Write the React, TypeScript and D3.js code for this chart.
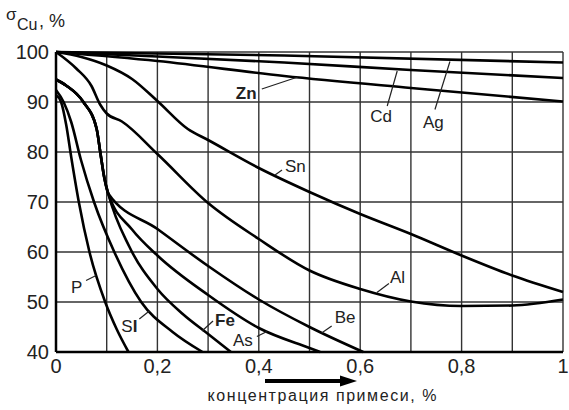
import React from "react";
import * as d3 from "d3";

// concentration of impurity (%) -> relative conductivity of copper (%)
const xTicks = [0, 0.2, 0.4, 0.6, 0.8, 1];
const xTickLabels = ["0", "0,2", "0,4", "0,6", "0,8", "1"];
const yTicks = [40, 50, 60, 70, 80, 90, 100];

const ag = [[0, 100], [0.45, 99.3], [1, 97.9]];
const cd = [[0, 100], [0.2, 99.1], [0.45, 97.9], [0.7, 96.4], [1, 94.8]];
const zn = [[0, 100], [0.2, 98.2], [0.45, 95.2], [0.7, 92.8], [1, 90.1]];
const sn = [
  [0, 100], [0.05, 99], [0.1, 97.3], [0.15, 94.6], [0.2, 90.2], [0.26, 84.6],
  [0.3, 82.4], [0.4, 76.8], [0.5, 72], [0.6, 67.6], [0.7, 63.6], [0.8, 59.3],
  [0.9, 55.3], [1, 52],
];
const al = [
  [0, 100], [0.04, 96.7], [0.07, 93.2], [0.087, 89.5], [0.1, 87.7], [0.13, 86.1],
  [0.2, 79.6], [0.3, 69.8], [0.4, 62.6], [0.5, 56.3], [0.6, 52.6], [0.7, 50.1],
  [0.8, 49.2], [0.9, 49.3], [1, 50.5],
];
// Be, As and Fe share the same start
const be = [
  [0, 94.5], [0.02, 93.3], [0.054, 90], [0.08, 84.7], [0.088, 79.5], [0.095, 75],
  [0.103, 71.7], [0.2, 64.6], [0.3, 57.2], [0.4, 50.5], [0.5, 45], [0.606, 40],
];
const as = [
  [0, 94.5], [0.02, 93.3], [0.054, 90], [0.08, 84.7], [0.088, 79.5], [0.095, 75],
  [0.103, 71.7], [0.15, 64.5], [0.2, 59.3], [0.3, 51.4], [0.4, 44.8], [0.5, 40.8],
  [0.521, 40],
];
const fe = [
  [0, 94.5], [0.02, 93.3], [0.054, 90], [0.08, 84.7], [0.088, 79.5], [0.095, 75],
  [0.103, 71.7], [0.145, 61], [0.2, 52.6], [0.25, 47.6], [0.3, 43.6], [0.345, 40],
];
const si = [
  [0, 92.4], [0.015, 90], [0.03, 86], [0.049, 78.5], [0.075, 70], [0.115, 60],
  [0.168, 50], [0.23, 44], [0.289, 40],
];
const p = [
  [0, 91.4], [0.01, 90], [0.02, 85.5], [0.03, 79], [0.045, 70], [0.066, 60],
  [0.097, 50], [0.12, 44.5], [0.143, 40],
];

const series = [ag, cd, zn, sn, al, be, as, fe, si, p];

// label text, leader tip on the curve (data), leader end and text start (px offsets from tip)
const labels = [
  { text: "Zn", x: 0.477, y: 95, lx: -36, ly: 12, tx: -62, ty: 22, bold: true },
  { text: "Cd", x: 0.673, y: 96.2, lx: -10, ly: 35, tx: -27, ty: 51 },
  { text: "Ag", x: 0.777, y: 98.1, lx: -15, ly: 48, tx: -27, ty: 66 },
  { text: "Sn", x: 0.432, y: 75.4, lx: 7, ly: -5, tx: 10, ty: -3 },
  { text: "Al", x: 0.633, y: 51.9, lx: 12, ly: -9, tx: 13, ty: -10 },
  { text: "Be", x: 0.524, y: 43.8, lx: 10, ly: -7, tx: 13, ty: -10 },
  { text: "As", x: 0.416, y: 44.1, lx: -10, ly: 5, tx: -34, ty: 14 },
  { text: "Fe", x: 0.288, y: 44.2, lx: 11, ly: -10, tx: 13, ty: -5, bold: true },
  { text: "SI", x: 0.184, y: 48.2, lx: -10, ly: 8, tx: -28, ty: 21 },
  { text: "P", x: 0.079, y: 55.3, lx: -10, ly: 5, tx: -25, ty: 17 },
];

const W = 569;
const H = 410;
const font = "'Liberation Sans', Arial, sans-serif";

export default function App() {
  const x = d3.scaleLinear().domain([0, 1]).range([56, 563]);
  const y = d3.scaleLinear().domain([40, 100]).range([352, 52]);
  const line = d3
    .line<number[]>()
    .x((d) => x(d[0]))
    .y((d) => y(d[1]))
    .curve(d3.curveMonotoneX);

  const vGrid = d3.range(0, 11).map((i) => i / 10);

  return (
    <svg
      width={W}
      height={H}
      style={{ position: "absolute", left: 0, top: 0, background: "#fff" }}
      fontFamily={font}
    >
      <rect width={W} height={H} fill="#fff" />
      {/* grid */}
      {vGrid.map((v) => (
        <line key={"v" + v} x1={x(v)} x2={x(v)} y1={y(40)} y2={y(100)} stroke="#333" strokeWidth={1.4} />
      ))}
      {yTicks.map((v) => (
        <line key={"h" + v} x1={x(0)} x2={x(1)} y1={y(v)} y2={y(v)} stroke="#333" strokeWidth={1.4} />
      ))}
      {/* axes */}
      <line x1={x(0)} x2={x(0)} y1={y(40)} y2={y(100)} stroke="#000" strokeWidth={2.5} />
      <line x1={x(0)} x2={x(1)} y1={y(40)} y2={y(40)} stroke="#000" strokeWidth={2.5} />

      {/* curves */}
      {series.map((s, i) => (
        <path key={i} d={line(s) || ""} fill="none" stroke="#000" strokeWidth={2.6} strokeLinejoin="round" />
      ))}

      {/* tick labels */}
      {yTicks.map((v) => (
        <text key={"yt" + v} x={49} y={y(v) + 7} fontSize={20} textAnchor="end" fill="#222">
          {v}
        </text>
      ))}
      {xTicks.map((v, i) => (
        <text key={"xt" + v} x={x(v)} y={373} fontSize={20} textAnchor="middle" fill="#222">
          {xTickLabels[i]}
        </text>
      ))}

      {/* curve labels */}
      {labels.map((l) => {
        const px = x(l.x);
        const py = y(l.y);
        return (
          <g key={l.text}>
            <line x1={px} y1={py} x2={px + l.lx} y2={py + l.ly} stroke="#222" strokeWidth={1.2} />
            <text x={px + l.tx} y={py + l.ty} fontSize={17} fill="#222" fontWeight={l.bold ? "bold" : "normal"}>
              {l.text === "SI" ? (
                <>
                  S<tspan fontWeight="bold">I</tspan>
                </>
              ) : (
                l.text
              )}
            </text>
          </g>
        );
      })}

      {/* y title */}
      <text x={6} y={20} fontSize={17} fill="#222">σ</text>
      <text x={17} y={30} fontSize={16} fill="#222">Cu</text>
      <text x={39} y={27} fontSize={18} fill="#222">, %</text>

      {/* arrow and x title */}
      <line x1={265} x2={343} y1={381} y2={381} stroke="#000" strokeWidth={4} />
      <polygon points="340,375.5 357,381 340,386.5" fill="#000" />
      <text x={322} y={401} fontSize={16} textAnchor="middle" fill="#222" textLength={229}>
        концентрация примеси, %
      </text>
    </svg>
  );
}
